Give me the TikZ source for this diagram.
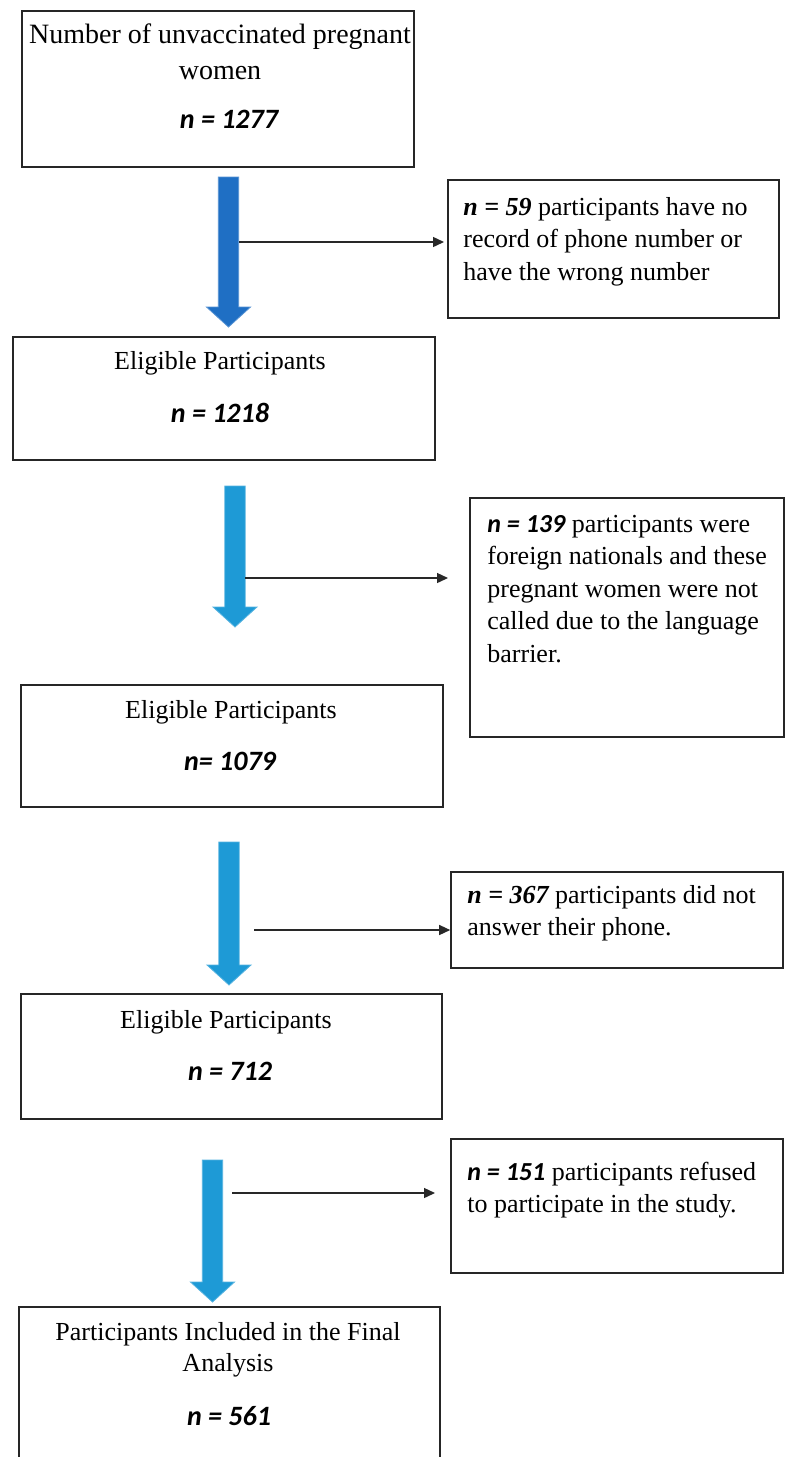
\documentclass[tikz,border=0pt]{standalone}
\usepackage{fontspec}
\setmainfont{Liberation Serif}
\newfontfamily\calib{Carlito}
\usetikzlibrary{arrows.meta,calc}
\definecolor{darkblue}{RGB}{31,111,196}
\definecolor{lightblue}{RGB}{30,154,214}
\definecolor{linegray}{RGB}{40,40,40}
\newcommand\tstrut{\rule{0pt}{10pt}}
\newcommand\nval[1]{{\calib\bfseries\itshape #1}}
\newcommand\nser[1]{{\bfseries\itshape #1}}
\newcommand\blarrow[3]{\fill[#1, draw=#1!75!white, line width=0.4pt] let \p1=(#2), \p2=(#3) in (\x1-5.1pt,\y1) -- (\x1+5.1pt,\y1) -- (\x1+5.1pt,\y2+10pt) -- (\x1+11pt,\y2+10pt) -- (\x2,\y2) -- (\x1-11pt,\y2+10pt) -- (\x1-5.1pt,\y2+10pt) -- cycle;}
\tikzset{
  box/.style={draw=black!85, line width=0.8pt, inner sep=0pt, outer sep=0pt, anchor=north west},
  titletwo/.style={inner sep=0pt, align=center, anchor=north},
  titleone/.style={inner sep=0pt, anchor=base, font=\fontsize{13}{16}\selectfont},
  mainn/.style={inner sep=0pt, anchor=base, font=\calib\bfseries\itshape\fontsize{14}{17}\selectfont},
  sidetext/.style={inner sep=0pt, align=left, anchor=north west, font=\fontsize{13}{16.25}\selectfont},
  conn/.style={draw=linegray, line width=0.7pt, -{Triangle[length=5.5pt,width=5pt]}}
}
\begin{document}
\begin{tikzpicture}[x=0.5pt,y=-0.5pt]
\useasboundingbox (0,0) rectangle (787,1457);
\clip (0,0) rectangle (787,1457);
\fill[white] (0,0) rectangle (787,1457);
% main boxes
\node[box, minimum width=196pt, minimum height=78pt] (b1) at (22,11) {};
\node[box, minimum width=211pt, minimum height=61.5pt] (b2) at (13,337) {};
\node[box, minimum width=211pt, minimum height=61pt] (b3) at (21,685) {};
\node[box, minimum width=210.5pt, minimum height=62.5pt] (b4) at (21,994) {};
\node[box, minimum width=210.5pt, minimum height=80pt] (b5) at (19,1307) {};
% side boxes
\node[box, minimum width=165.5pt, minimum height=69pt] (r1) at (448,180) {};
\node[box, minimum width=157pt, minimum height=119.5pt] (r2) at (470,498) {};
\node[box, minimum width=166pt, minimum height=48pt] (r3) at (451,872) {};
\node[box, minimum width=166pt, minimum height=67pt] (r4) at (451,1139) {};
% main texts
\node[titletwo, font=\fontsize{14}{18}\selectfont] (t1) at (220,23) {\tstrut Number of unvaccinated pregnant\\women};
\node[mainn] (n1) at (229,128) {n = 1277};
\node[titleone] (t2) at (220,369) {Eligible Participants};
\node[mainn] (n2) at (220,422) {n = 1218};
\node[titleone] (t3) at (231,718) {Eligible Participants};
\node[mainn] (n3) at (230,770) {n= 1079};
\node[titleone] (t4) at (226,1028) {Eligible Participants};
\node[mainn] (n4) at (230,1080) {n = 712};
\node[titletwo, font=\fontsize{13}{15.5}\selectfont] (t5) at (228,1320) {\tstrut Participants Included in the Final\\Analysis};
\node[mainn] (n5) at (229,1425) {n = 561};
% side texts
\node[sidetext] (s1) at (463,195) {\tstrut\nser{n = 59} participants have no\\record of phone number or\\have the wrong number};
\node[sidetext] (s2) at (487,512) {\tstrut\nval{n = 139} participants were\\foreign nationals and these\\pregnant women were not\\called due to the language\\barrier.};
\node[sidetext] (s3) at (467,883) {\tstrut\nser{n = 367} participants did not\\answer their phone.};
\node[sidetext] (s4) at (467,1160) {\tstrut\nval{n = 151} participants refused\\to participate in the study.};
% blue arrows
\coordinate (a1s) at (228.5,177); \coordinate (a1e) at (228.5,327);
\coordinate (a2s) at (235,486);   \coordinate (a2e) at (235,627);
\coordinate (a3s) at (229,842);   \coordinate (a3e) at (229,985);
\coordinate (a4s) at (212.5,1160); \coordinate (a4e) at (212.5,1302);
\blarrow{darkblue}{a1s}{a1e}
\blarrow{lightblue}{a2s}{a2e}
\blarrow{lightblue}{a3s}{a3e}
\blarrow{lightblue}{a4s}{a4e}
% side connectors
\coordinate (h1s) at (239,242);
\coordinate (h2s) at (245,578);
\coordinate (h3s) at (254,930);
\coordinate (h4s) at (232,1193);
\draw[conn, shorten >=2pt] (h1s) -- (h1s -| r1.west);
\draw[conn, shorten >=11pt] (h2s) -- (h2s -| r2.west);
\draw[conn, shorten >=0.4pt] (h3s) -- (h3s -| r3.west);
\draw[conn, shorten >=8pt] (h4s) -- (h4s -| r4.west);
\end{tikzpicture}
\end{document}
